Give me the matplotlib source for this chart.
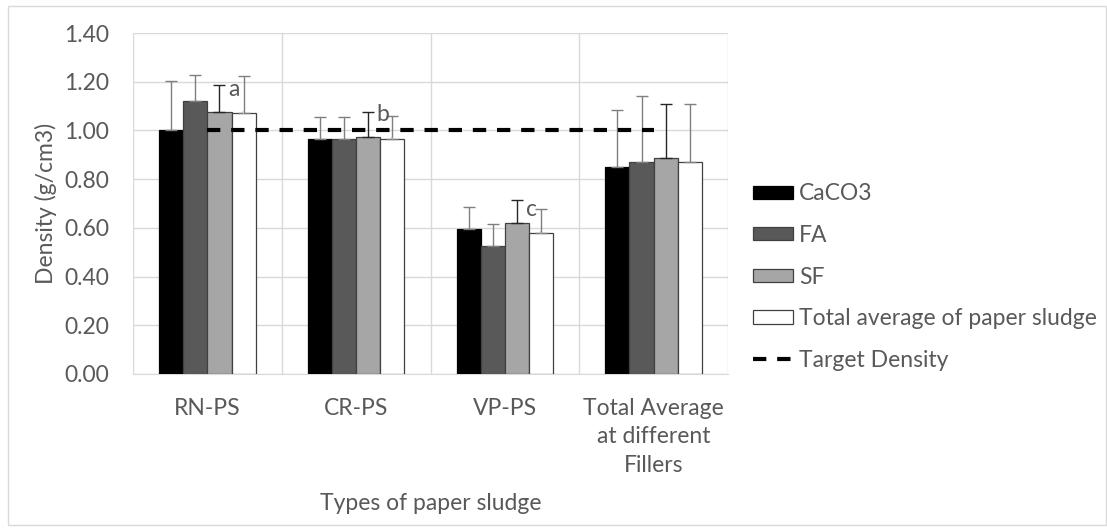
import matplotlib
matplotlib.use("Agg")
import matplotlib.pyplot as plt
from matplotlib.patches import Rectangle, Patch
from matplotlib.lines import Line2D
import numpy as np

categories = ["RN-PS", "CR-PS", "VP-PS", "Total Average\nat different\nFillers"]
series_names = ["CaCO3", "FA", "SF", "Total average of paper sludge"]
caco3 = [1.00, 0.964, 0.594, 0.849]
fa = [1.122, 0.966, 0.524, 0.870]
sf = [1.077, 0.974, 0.619, 0.888]
total = [1.070, 0.965, 0.578, 0.870]
caco3_err = [0.204, 0.092, 0.093, 0.236]
fa_err = [0.106, 0.088, 0.091, 0.270]
sf_err = [0.111, 0.100, 0.095, 0.222]
total_err = [0.152, 0.095, 0.098, 0.240]
target = [1.0, 1.0, 1.0, 1.0]
sig_labels = ["a", "b", "c"]
yticks = [0.0, 0.2, 0.4, 0.6, 0.8, 1.0, 1.2, 1.4]

FONT = ["Lato", "DejaVu Sans"]
plt.rcParams['font.family'] = FONT
TXT = "#595959"
FS = 16.5

fig = plt.figure(figsize=(11.07, 5.31), dpi=100)
ax = fig.add_axes([133/1107, 1-374/531, (728-133)/1107, (374-33)/531])

# outer chart border
fig.patches.append(Rectangle((8/1107, 6/531), 1-9/1107, 1-12/531, transform=fig.transFigure,
                             fill=False, edgecolor="#D9D9D9", linewidth=1.0))

x = np.arange(len(categories))
w = 0.1625
vals = [caco3, fa, sf, total]
errs = [caco3_err, fa_err, sf_err, total_err]
fills = ["#000000", "#595959", "#A6A6A6", "#FFFFFF"]
edges = ["#000000", "#404040", "#404040", "#404040"]
ecolors = ["#7F7F7F", "#7F7F7F", "#262626", "#7F7F7F"]
for k in range(4):
    xs = x + (k - 1.5) * w
    ax.bar(xs, vals[k], width=w, color=fills[k], edgecolor=edges[k], linewidth=0.9, zorder=3)
    ax.errorbar(xs, vals[k], yerr=[np.zeros(4), errs[k]], fmt="none", ecolor=ecolors[k],
                elinewidth=1.0, capsize=4, capthick=1.0, zorder=4)

ax.plot(x, target, color="black", linestyle=(0, (3.2, 2.6)), linewidth=3.0, zorder=5)

# significance labels with leader lines on white bars
for i, lab in enumerate(sig_labels):
    xb = x[i] + 1.5 * w
    ax.annotate(lab, xy=(xb, total[i]), xytext=(-10, 24), textcoords="offset pixels",
                ha="center", va="center", fontsize=FS, color=TXT,
                arrowprops=dict(arrowstyle="-", color="#BFBFBF", lw=0.8, shrinkA=7, shrinkB=0),
                zorder=6)

ax.set_xlim(-0.5, 3.5)
ax.set_ylim(0, 1.4)
ax.set_yticks(yticks)
ax.set_yticklabels([f"{v:.2f}" for v in yticks])
ax.set_xticks(x)
ax.set_xticklabels(categories, linespacing=1.45)
ax.set_xticks(np.arange(-0.5, 4.0, 1.0), minor=True)
ax.grid(axis="y", color="#D9D9D9", linewidth=1.0, zorder=0)
ax.grid(axis="x", which="minor", color="#D9D9D9", linewidth=1.0, zorder=0)
ax.grid(axis="x", which="major", visible=False)
for s in ["top", "right", "left"]:
    ax.spines[s].set_visible(False)
ax.spines["bottom"].set_color("#D9D9D9")
ax.tick_params(axis="both", which="both", length=0, labelsize=FS, colors=TXT)
ax.tick_params(axis="x", pad=17)
ax.tick_params(axis="y", pad=17)
ax.set_ylabel("Density (g/cm3)", fontsize=FS, color=TXT, va="center")
ax.set_xlabel("Types of paper sludge", fontsize=FS, color=TXT, va="center")
ax.yaxis.set_label_coords((46-133)/595, (374-203)/341)
ax.xaxis.set_label_coords(0.5, (374-503)/341)

handles = [Patch(facecolor=fills[k], edgecolor=edges[k], linewidth=0.9) for k in range(4)]
handles.append(Line2D([0], [0], color="black", linestyle=(0, (3.2, 2.6)), linewidth=3.0))
labels = series_names + ["Target Density"]
leg = fig.legend(handles, labels, loc="center left", bbox_to_anchor=(753/1107, 1-277/531),
                 frameon=False, fontsize=FS, handlelength=1.75, handleheight=0.5,
                 handletextpad=0.26, labelspacing=0.9, borderpad=0, borderaxespad=0)
for t in leg.get_texts():
    t.set_color(TXT)

fig.savefig("out.png", dpi=100)
